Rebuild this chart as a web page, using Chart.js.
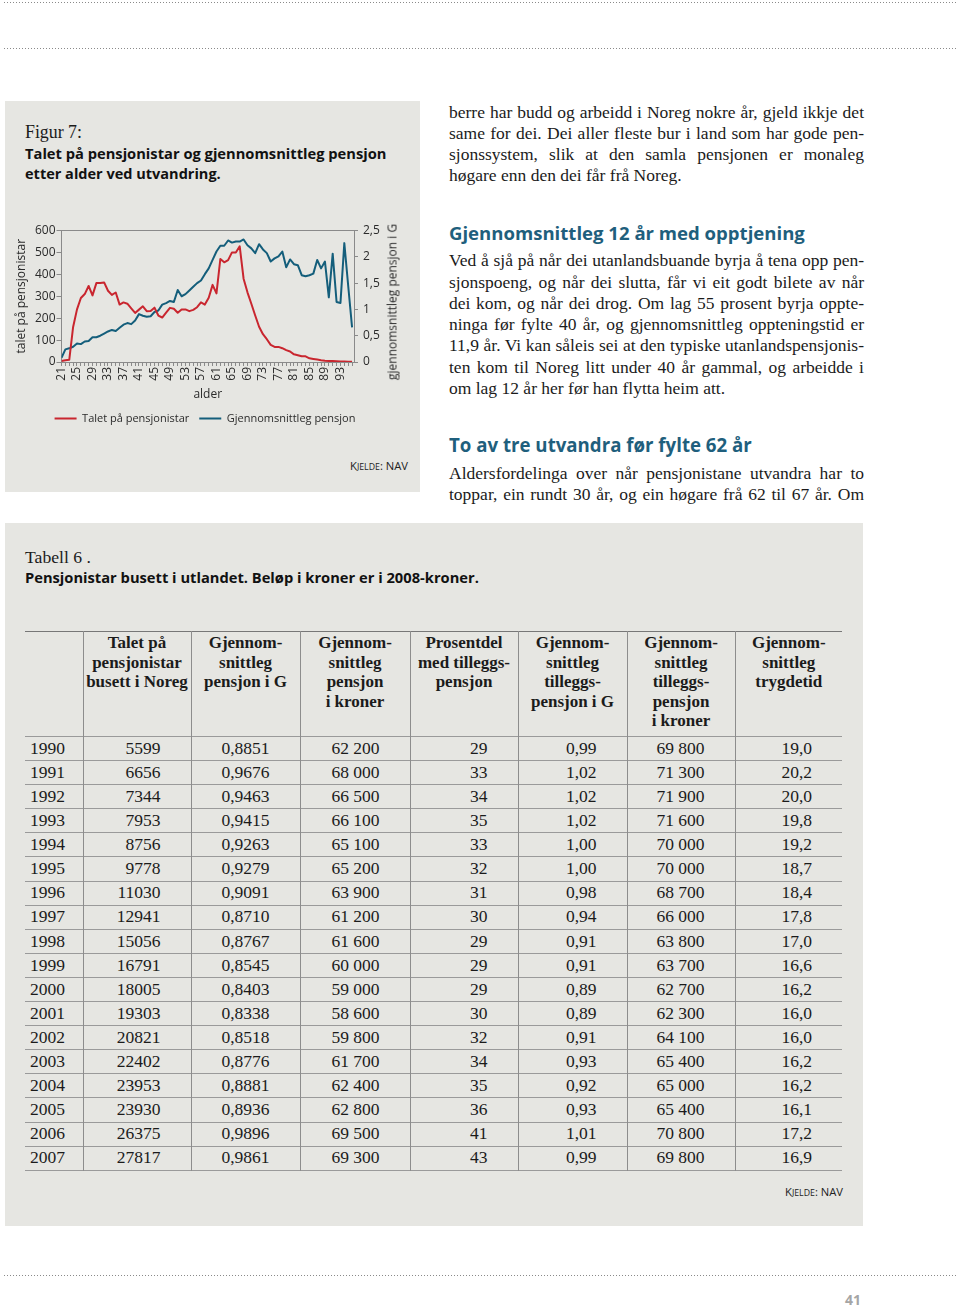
<!DOCTYPE html>
<html lang="nn"><head><meta charset="utf-8">
<script src="https://cdn.jsdelivr.net/npm/chart.js@4.4.1/dist/chart.umd.min.js"></script>
<style>
html,body{margin:0;padding:0;background:#fff}
body{width:960px;height:1307px;position:relative;overflow:hidden;color:#1b1b1b;font-family:"Liberation Serif","Times New Roman",serif}
.dots{position:absolute;left:4px;width:952px;height:1px;background-image:repeating-linear-gradient(to right,#8a8a8a 0 1px,transparent 1px 3px)}
.box{position:absolute;background:#e6e6e2}
.t{position:absolute;white-space:nowrap;line-height:1.2;transform:translateY(-50%)}
.serif{font-family:"Liberation Serif",serif;font-size:17.5px}
.sb{font-family:"Open Sans",sans-serif;font-weight:700;font-size:13.5px;color:#111}
.head{font-family:"Open Sans",sans-serif;font-weight:700;color:#1f5f7d;font-size:18px}
.src{font-family:"Open Sans",sans-serif;color:#222;font-size:12px}
.src .sc{font-size:0.78em;text-transform:uppercase}
.ln{position:absolute;left:449px;white-space:nowrap;font-size:17.5px;line-height:1.2;transform:translateY(-50%);color:#1b1b1b}
#tbl{position:absolute;left:25px;top:631px;border-collapse:collapse;table-layout:fixed;width:817px;font-family:"Liberation Serif",serif;color:#1b1b1b}
#tbl td,#tbl th{padding:0;border:0}
#tbl th{font-weight:700;font-size:17px;line-height:19.5px;vertical-align:top;text-align:center;padding-top:1px}
#tbl td{font-size:17.5px;text-align:right;padding-right:30px;vertical-align:middle;line-height:1}
#tbl td.yr{text-align:left;padding-left:5px;padding-right:0}
#tbl .vl{border-left:1px solid #8d8d8d}
#tbl tr{border-bottom:1px solid #9a9a9a}
#tbl tr.hd{border-top:1px solid #777}
#rtitle{position:absolute;left:392px;top:302px;transform:translate(-50%,-50%) rotate(-90deg);font-family:"Open Sans",sans-serif;font-size:12px;color:#2b2b2b;white-space:nowrap}
</style></head>
<body>
<div class="dots" style="top:2px"></div>
<div class="dots" style="top:48px"></div>
<div class="dots" style="top:1275px"></div>

<div class="box" style="left:5px;top:101px;width:415px;height:391px"></div>
<div class="box" style="left:5px;top:523px;width:858px;height:703px"></div>

<div class="t serif fit" data-w="57" style="left:25px;top:133px">Figur 7:</div>
<div class="t sb fit" data-w="362" style="left:25px;top:154px">Talet på pensjonistar og gjennomsnittleg pensjon</div>
<div class="t sb fit" data-w="196" style="left:25px;top:174px">etter alder ved utvandring.</div>

<canvas id="c" width="390" height="219" style="position:absolute;left:10px;top:215px"></canvas>
<div id="rtitle">gjennomsnittleg pensjon i G</div>
<div class="t src fit" data-w="58" style="right:552px;top:466px">K<span class="sc">jelde</span>: NAV</div>

<div class="ln j" style="top:112px">berre har budd og arbeidd i Noreg nokre år, gjeld ikkje det</div>
<div class="ln j" style="top:133px">same for dei. Dei aller fleste bur i land som har gode pen-</div>
<div class="ln j" style="top:154px">sjonssystem, slik at den samla pensjonen er monaleg</div>
<div class="ln" style="top:175px">høgare enn den dei får frå Noreg.</div>

<div class="t head fit" data-w="356" style="left:449px;top:233px">Gjennomsnittleg 12 år med opptjening</div>
<div class="ln j" style="top:260px">Ved å sjå på når dei utanlandsbuande byrja å tena opp pen-</div>
<div class="ln j" style="top:282px">sjonspoeng, og når dei slutta, får vi eit godt bilete av når</div>
<div class="ln j" style="top:303px">dei kom, og når dei drog. Om lag 55 prosent byrja oppte-</div>
<div class="ln j" style="top:324px">ninga før fylte 40 år, og gjennomsnittleg oppteningstid er</div>
<div class="ln j" style="top:345px">11,9 år. Vi kan såleis sei at den typiske utanlandspensjonis-</div>
<div class="ln j" style="top:367px">ten kom til Noreg litt under 40 år gammal, og arbeidde i</div>
<div class="ln" style="top:388px">om lag 12 år her før han flytta heim att.</div>

<div class="t head fit" data-w="303" style="left:449px;top:445px">To av tre utvandra før fylte 62 år</div>
<div class="ln j" style="top:473px">Aldersfordelinga over når pensjonistane utvandra har to</div>
<div class="ln j" style="top:494px">toppar, ein rundt 30 år, og ein høgare frå 62 til 67 år. Om</div>

<div class="t serif fit" data-w="66" style="left:25px;top:558px">Tabell 6 .</div>
<div class="t sb fit" data-w="454" style="left:25px;top:578px">Pensjonistar busett i utlandet. Beløp i kroner er i 2008-kroner.</div>

<table id="tbl"></table>
<div class="t src fit" data-w="58" style="right:117px;top:1192px">K<span class="sc">jelde</span>: NAV</div>
<div class="t" style="left:845px;top:1300px;font-family:'Open Sans',sans-serif;font-weight:700;font-size:14px;color:#a5a5a5">41</div>

<script>
// ---------- Chart data ----------
const ages = [21,22,23,24,25,26,27,28,29,30,31,32,33,34,35,36,37,38,39,40,41,42,43,44,45,46,47,48,49,50,51,52,53,54,55,56,57,58,59,60,61,62,63,64,65,66,67,68,69,70,71,72,73,74,75,76,77,78,79,80,81,82,83,84,85,86,87,88,89,90,91,92,93,94,95,96];
const pensionists = [5,8,10,160,240,292,310,347,304,360,360,363,325,306,317,262,272,266,245,224,239,254,232,233,248,212,203,225,247,243,225,240,240,232,238,250,272,262,293,352,313,470,455,465,500,500,528,380,318,266,212,161,127,104,78,69,69,63,54,48,35,31,26,26,17,14,11,8,6,5,4,3,2,2,1,1];
const avgPensionG = [0.08,0.24,0.26,0.29,0.35,0.34,0.39,0.40,0.47,0.47,0.50,0.54,0.58,0.61,0.59,0.65,0.71,0.74,0.72,0.79,0.91,0.88,0.86,0.87,0.95,0.98,1.09,1.12,1.16,1.14,1.37,1.25,1.29,1.36,1.43,1.50,1.55,1.67,1.78,1.94,2.10,2.21,2.21,2.31,2.27,2.29,2.29,2.33,2.22,2.16,2.07,2.24,2.14,2.07,1.91,1.97,2.01,2.10,1.80,1.95,1.86,1.84,1.65,1.63,1.65,1.68,1.94,1.78,1.91,1.23,2.06,1.14,1.12,2.26,1.45,0.66];
const xTickLabels = ['21','25','29','33','37','41','45','49','53','57','61','65','69','73','77','81','85','89','93'];
const leftTickValues = [0,100,200,300,400,500,600];
const rightTickValues = [0,0.5,1,1.5,2,2.5];
const rightTickLabels = ['0','0,5','1','1,5','2','2,5'];
const seriesNames = ['Talet på pensjonistar','Gjennomsnittleg pensjon'];

// ---------- Table data ----------
const years = [1990,1991,1992,1993,1994,1995,1996,1997,1998,1999,2000,2001,2002,2003,2004,2005,2006,2007];
const nPensionists = ['5599','6656','7344','7953','8756','9778','11030','12941','15056','16791','18005','19303','20821','22402','23953','23930','26375','27817'];
const avgG = ['0,8851','0,9676','0,9463','0,9415','0,9263','0,9279','0,9091','0,8710','0,8767','0,8545','0,8403','0,8338','0,8518','0,8776','0,8881','0,8936','0,9896','0,9861'];
const avgKr = ['62 200','68 000','66 500','66 100','65 100','65 200','63 900','61 200','61 600','60 000','59 000','58 600','59 800','61 700','62 400','62 800','69 500','69 300'];
const pctSupp = ['29','33','34','35','33','32','31','30','29','29','29','30','32','34','35','36','41','43'];
const suppG = ['0,99','1,02','1,02','1,02','1,00','1,00','0,98','0,94','0,91','0,91','0,89','0,89','0,91','0,93','0,92','0,93','1,01','0,99'];
const suppKr = ['69 800','71 300','71 900','71 600','70 000','70 000','68 700','66 000','63 800','63 700','62 700','62 300','64 100','65 400','65 000','65 400','70 800','69 800'];
const trygdetid = ['19,0','20,2','20,0','19,8','19,2','18,7','18,4','17,8','17,0','16,6','16,2','16,0','16,0','16,2','16,2','16,1','17,2','16,9'];
const headers = ['', 'Talet på<br>pensjonistar<br>busett i Noreg', 'Gjennom-<br>snittleg<br>pensjon i G', 'Gjennom-<br>snittleg<br>pensjon<br>i kroner', 'Prosentdel<br>med tilleggs-<br>pensjon', 'Gjennom-<br>snittleg<br>tilleggs-<br>pensjon i G', 'Gjennom-<br>snittleg<br>tilleggs-<br>pensjon<br>i kroner', 'Gjennom-<br>snittleg<br>trygdetid'];
const colW = [58,108,109,110,108,109,108,107];

// build table
(function(){
  const t = document.getElementById('tbl');
  let h = '<colgroup>' + colW.map(w=>'<col style="width:'+w+'px">').join('') + '</colgroup>';
  h += '<tr class="hd" style="height:105px">' + headers.map((x,i)=>'<th'+(i>0?' class="vl"':'')+'>'+x+'</th>').join('') + '</tr>';
  const cols = [nPensionists, avgG, avgKr, pctSupp, suppG, suppKr, trygdetid];
  years.forEach((y,r)=>{
    h += '<tr style="height:24.1px"><td class="yr">'+y+'</td>' + cols.map(c=>'<td class="vl">'+c[r]+'</td>').join('') + '</tr>';
  });
  t.innerHTML = h;
})();

// fit widths
document.querySelectorAll('.fit').forEach(el=>{
  const w = el.getBoundingClientRect().width;
  const fs = parseFloat(getComputedStyle(el).fontSize);
  el.style.fontSize = (fs*parseFloat(el.dataset.w)/w)+'px';
});
document.querySelectorAll('.ln.j').forEach(el=>{
  const w = el.getBoundingClientRect().width;
  const n = (el.textContent.match(/ /g)||[]).length;
  el.style.wordSpacing = ((415-w)/n)+'px';
});

// ---------- Chart ----------
const RED = '#c9262f', BLUE = '#145e7b', AX = '#8a8a8a', TX = '#2b2b2b';
Chart.defaults.font.family = '"Open Sans", sans-serif';
Chart.defaults.font.size = 12;
Chart.defaults.color = TX;
new Chart(document.getElementById('c'), {
  type: 'line',
  data: {
    datasets: [
      {label: seriesNames[0], data: ages.map((a,i)=>({x:a, y:pensionists[i]})), yAxisID:'y',
       borderColor: RED, backgroundColor: RED, borderWidth: 2, pointRadius: 0, tension: 0, borderJoinStyle:'round'},
      {label: seriesNames[1], data: ages.map((a,i)=>({x:a, y:avgPensionG[i]})), yAxisID:'y1',
       borderColor: BLUE, backgroundColor: BLUE, borderWidth: 2, pointRadius: 0, tension: 0, borderJoinStyle:'round'}
    ]
  },
  options: {
    responsive: false, animation: false, devicePixelRatio: 1,
    layout: {padding: {top: 15.5, left: 0, right: 0, bottom: 0}},
    plugins: {
      legend: {position: 'bottom', labels: {usePointStyle: true, pointStyle: 'line', pointStyleWidth: 22, padding: 10, color: TX, font: {size: 11}}},
      tooltip: {enabled: false}
    },
    scales: {
      x: {
        type: 'linear', min: 21, max: 96.5,
        afterBuildTicks: s => { s.ticks = ages.map(v => ({value: v})); },
        afterFit: s => { s.height = 41; },
        ticks: {autoSkip: false, minRotation: 90, maxRotation: 90, padding: 1, color: TX, font: {size: 12},
                callback: v => xTickLabels.includes(String(v)) ? String(v) : ''},
        grid: {drawOnChartArea: false, drawTicks: true, tickLength: 4, color: AX},
        border: {display: true, color: AX},
        title: {display: true, text: 'alder', color: TX, padding: {top: 0, bottom: 1.4}, font: {size: 12}}
      },
      y: {
        position: 'left', min: 0, max: 600,
        afterBuildTicks: s => { s.ticks = leftTickValues.map(v => ({value: v})); },
        afterFit: s => { s.width = 51.5; },
        ticks: {padding: 1, color: TX, font: {size: 12}},
        grid: {drawTicks: true, tickLength: 5, tickColor: AX,
               color: c => (c.tick && c.tick.value === 600) ? AX : 'rgba(0,0,0,0)'},
        border: {display: true, color: AX},
        title: {display: true, text: 'talet på pensjonistar', color: TX, padding: {top: 4.8, bottom: 0}, font: {size: 12}}
      },
      y1: {
        position: 'right', min: 0, max: 2.5,
        afterBuildTicks: s => { s.ticks = rightTickValues.map(v => ({value: v})); },
        afterFit: s => { s.width = 46; },
        ticks: {padding: 5, color: TX, font: {size: 12}, callback: (v, i) => rightTickLabels[i]},
        grid: {drawOnChartArea: false, drawTicks: true, tickLength: 4, color: AX},
        border: {display: true, color: AX}
      }
    }
  }
});
</script>
</body></html>
